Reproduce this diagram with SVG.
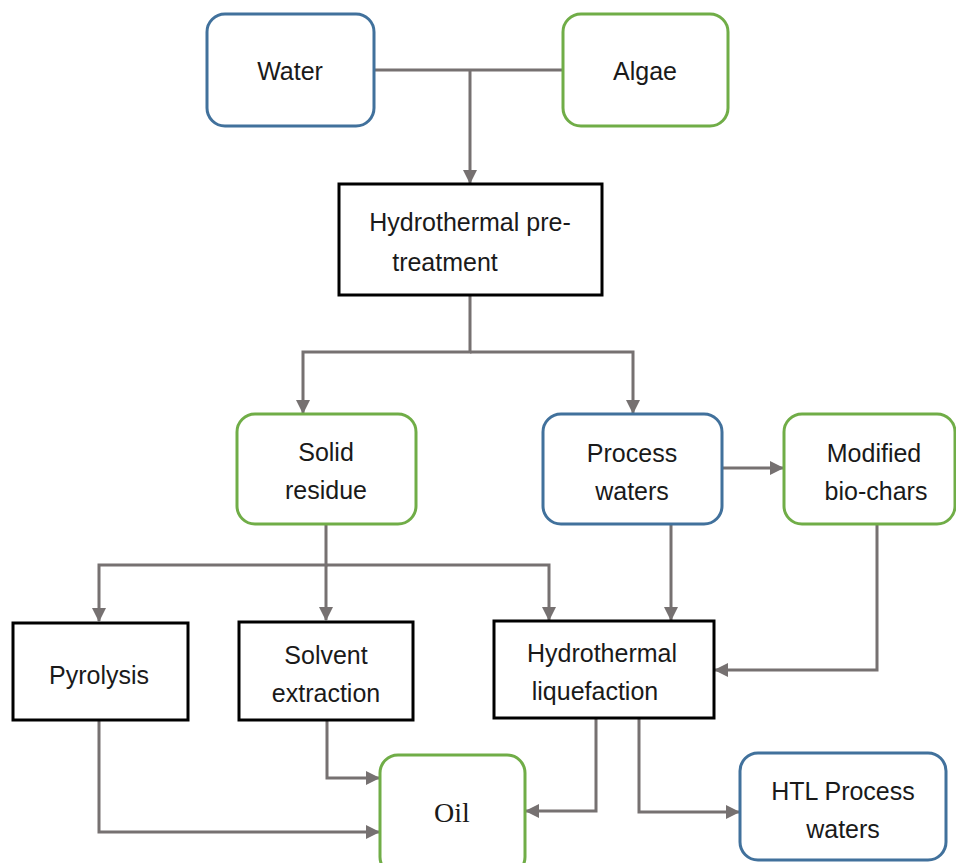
<svg xmlns="http://www.w3.org/2000/svg" width="956" height="863" viewBox="0 0 956 863">
<defs>
<marker id="ah" viewBox="0 0 14 14" refX="13" refY="7" markerWidth="14" markerHeight="14" markerUnits="userSpaceOnUse" orient="auto">
<path d="M0,0 L14,7 L0,14 Z" fill="#767171"/>
</marker>
</defs>
<style>
.blue{fill:#fff;stroke:#41719C;stroke-width:3}
.green{fill:#fff;stroke:#70AD47;stroke-width:3}
.black{fill:#fff;stroke:#000;stroke-width:3}
.t{font-family:"Liberation Sans",Arial,sans-serif;font-size:25px;fill:#1a1a1a;text-anchor:middle}
.s{font-family:"Liberation Serif","Times New Roman",serif;font-size:28px;fill:#1a1a1a;text-anchor:middle}
.c{fill:none;stroke:#767171;stroke-width:3}
</style>
<g id="connectors">
<path class="c" d="M374,70 H563"/>
<path class="c" d="M470,70 V183" marker-end="url(#ah)"/>
<path class="c" d="M470,295 V352 H303 V413" marker-end="url(#ah)"/>
<path class="c" d="M470,352 H633 V413" marker-end="url(#ah)"/>
<path class="c" d="M722,468 H783" marker-end="url(#ah)"/>
<path class="c" d="M326,524 V565 H99 V621" marker-end="url(#ah)"/>
<path class="c" d="M326,565 V620" marker-end="url(#ah)"/>
<path class="c" d="M326,565 H549 V620" marker-end="url(#ah)"/>
<path class="c" d="M671,524 V620" marker-end="url(#ah)"/>
<path class="c" d="M877,524 V670 H715" marker-end="url(#ah)"/>
<path class="c" d="M99,720 V832 H379" marker-end="url(#ah)"/>
<path class="c" d="M327,720 V778 H379" marker-end="url(#ah)"/>
<path class="c" d="M596,718 V811 H526" marker-end="url(#ah)"/>
<path class="c" d="M639,718 V812 H739" marker-end="url(#ah)"/>
</g>
<g id="water"><rect class="blue" x="207" y="14" width="167" height="112" rx="18"/><text class="t" x="290" y="80">Water</text></g>
<g id="algae"><rect class="green" x="563" y="14" width="165" height="112" rx="18"/><text class="t" x="645" y="80">Algae</text></g>
<g id="pretreatment"><rect class="black" x="339" y="184" width="263" height="111"/><text class="t" x="470" y="231">Hydrothermal pre-</text><text class="t" x="445" y="271">treatment</text></g>
<g id="solid"><rect class="green" x="237" y="414" width="179" height="110" rx="18"/><text class="t" x="326" y="461">Solid</text><text class="t" x="326" y="499">residue</text></g>
<g id="process"><rect class="blue" x="543" y="414" width="179" height="110" rx="18"/><text class="t" x="632" y="462">Process</text><text class="t" x="632" y="500">waters</text></g>
<g id="biochars"><rect class="green" x="784" y="414" width="171" height="110" rx="18"/><text class="t" x="874" y="462">Modified</text><text class="t" x="876" y="500">bio-chars</text></g>
<g id="pyrolysis"><rect class="black" x="13" y="623" width="175" height="97"/><text class="t" x="99" y="684">Pyrolysis</text></g>
<g id="solvent"><rect class="black" x="239" y="622" width="174" height="98"/><text class="t" x="326" y="664">Solvent</text><text class="t" x="326" y="702">extraction</text></g>
<g id="htl"><rect class="black" x="494" y="621" width="220" height="97"/><text class="t" x="602" y="662">Hydrothermal</text><text class="t" x="595" y="700">liquefaction</text></g>
<g id="oil"><rect class="green" x="380" y="755" width="145" height="120" rx="18"/><text class="s" x="452" y="822">Oil</text></g>
<g id="htlwaters"><rect class="blue" x="740" y="753" width="206" height="107" rx="18"/><text class="t" x="843" y="800">HTL Process</text><text class="t" x="843" y="838">waters</text></g>
</svg>
